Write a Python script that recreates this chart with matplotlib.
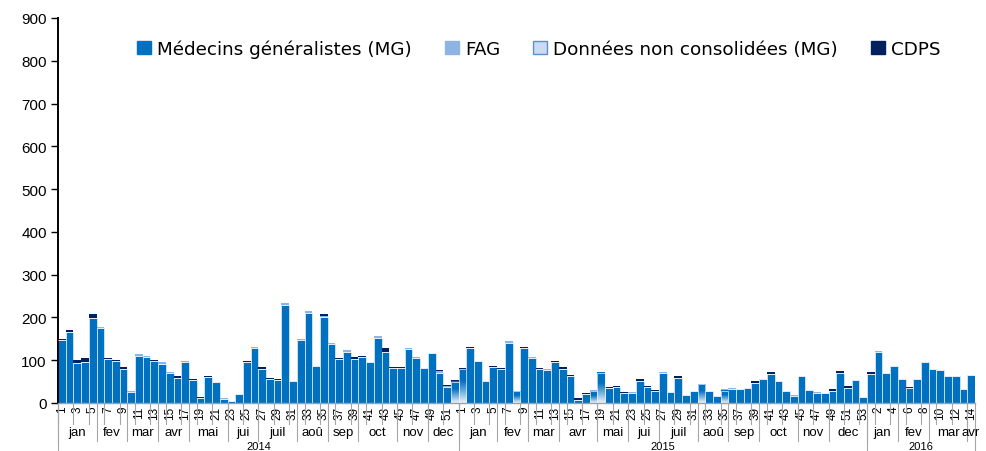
import numpy as np
import matplotlib
matplotlib.use("Agg")
import matplotlib.pyplot as plt
from matplotlib.patches import Patch
from matplotlib.colors import LinearSegmentedColormap
import matplotlib.transforms as mtransforms

plt.rcParams['font.family'] = ['Liberation Sans', 'DejaVu Sans']

# weekly counts, 2014 w1 .. 2016 w14
mg = [147, 167, 93, 97, 199, 175, 102, 98, 80, 25, 111, 107, 98, 92, 69, 59, 95, 53, 12, 60,
      48, 10, 4, 20, 95, 128, 80, 57, 53, 230, 52, 147, 211, 86, 201, 138, 102, 120, 104, 108,
      97, 153, 120, 81, 81, 127, 105, 81, 116, 71, 37, 0,
      0, 128, 98, 52, 83, 79, 141, 0, 128, 105, 79, 78, 95, 80, 62, 8, 21, 0, 0, 35,
      37, 23, 24, 52, 37, 27, 70, 26, 58, 19, 28, 0, 29, 16, 0, 33, 33, 35, 47, 57,
      68, 52, 28, 16, 62, 31, 23, 23, 27, 71, 35, 53, 14,
      67, 119, 71, 87, 55, 35, 55, 97, 79, 76, 62, 63, 32, 65]
fag = [0, 0, 0, 0, 0, 2, 0, 0, 0, 3, 3, 3, 0, 3, 3, 0, 3, 0, 0, 0,
       0, 2, 1, 0, 0, 2, 0, 0, 0, 3, 0, 2, 3, 0, 3, 3, 0, 3, 0, 0,
       0, 3, 0, 0, 0, 2, 2, 0, 2, 4, 2, 1,
       0, 0, 0, 0, 0, 0, 3, 2, 0, 3, 0, 1, 0, 0, 0, 0, 0, 3, 0, 0,
       0, 0, 1, 0, 0, 0, 2, 0, 0, 0, 0, 0, 0, 0, 3, 2, 0, 0, 0, 0,
       0, 0, 0, 2, 0, 0, 2, 0, 0, 0, 0, 0, 0,
       0, 3, 0, 0, 0, 0, 0, 0, 0, 0, 0, 0, 0, 0]
non_consol = [0] * 51 + [50] + \
             [79, 0, 0, 0, 0, 0, 0, 27, 0, 0, 0, 0, 0, 0, 0, 0, 0, 28, 71, 0,
              0, 0, 0, 0, 0, 0, 0, 0, 0, 0, 0, 44, 0, 0, 29, 0, 0, 0, 0, 0,
              0, 0, 0, 0, 0, 0, 0, 0, 0, 0, 0, 0, 0] + [0] * 14
cdps = [3, 3, 8, 8, 10, 0, 3, 3, 3, 0, 0, 0, 3, 0, 0, 3, 0, 2, 3, 2,
        0, 0, 0, 0, 4, 0, 4, 2, 2, 0, 0, 0, 0, 0, 5, 0, 3, 0, 3, 3,
        0, 0, 8, 3, 3, 0, 0, 0, 0, 3, 3, 2,
        3, 3, 0, 0, 3, 3, 0, 0, 3, 0, 3, 0, 3, 3, 3, 4, 3, 0, 0, 3,
        3, 3, 0, 3, 3, 3, 0, 0, 4, 0, 0, 0, 0, 0, 0, 0, 0, 0, 4, 0,
        4, 0, 0, 0, 0, 0, 0, 0, 5, 3, 5, 0, 0,
        5, 0, 0, 0, 0, 3, 0, 0, 0, 0, 0, 0, 0, 0]

weeks = list(range(1, 53)) + list(range(1, 54)) + list(range(1, 15))
years = ['2014', '2015', '2016']
year_len = [52, 53, 14]
months = ['jan', 'fev', 'mar', 'avr', 'mai', 'jui', 'juil', 'aoû', 'sep', 'oct', 'nov', 'dec',
          'jan', 'fev', 'mar', 'avr', 'mai', 'jui', 'juil', 'aoû', 'sep', 'oct', 'nov', 'dec',
          'jan', 'fev', 'mar', 'avr']
month_len = [5, 4, 4, 4, 5, 4, 5, 4, 4, 5, 4, 4,
             5, 4, 4, 5, 4, 4, 5, 4, 4, 5, 4, 5,
             4, 4, 5, 1]

c_mg = '#0070C0'
c_fag = '#8DB4E2'
c_cdps = '#002060'

mg = np.array(mg)
fag = np.array(fag)
non_consol = np.array(non_consol)
cdps = np.array(cdps)
x = np.arange(len(weeks))

fig = plt.figure(figsize=(9.86, 4.52), dpi=100)
ax = fig.add_axes([0.0588, 0.1062, 0.9300, 0.8518])

w = 1.0
ax.bar(x, mg, w, color=c_mg, edgecolor='#e8f0fa', linewidth=0.5, zorder=2)
nc_bars = ax.bar(x, non_consol, w, bottom=mg, color='none', edgecolor='#e8f0fa', linewidth=0.5, zorder=3)
ax.bar(x, fag, w, bottom=mg + non_consol, color=c_fag, linewidth=0, zorder=2)
ax.bar(x, cdps, w, bottom=mg + non_consol + fag, color=c_cdps, linewidth=0, zorder=2)

# gradient fill for the non consolidated part
grad_cmap = LinearSegmentedColormap.from_list('nc', [(0, '#eef3fb'), (0.65, c_mg), (1, c_mg)])
grad = np.linspace(0, 1, 100).reshape(-1, 1)
for b in nc_bars:
    if b.get_height() <= 0:
        continue
    x0, y0 = b.get_x(), b.get_y()
    ax.imshow(grad, cmap=grad_cmap, origin='lower', aspect='auto', zorder=2.5,
              extent=[x0, x0 + b.get_width(), y0, y0 + b.get_height()])

ax.set_xlim(-0.5, len(weeks) - 0.5)
ax.set_ylim(0, 900)
ax.set_yticks(range(0, 901, 100))
ax.tick_params(axis='y', labelsize=11, length=5, width=1, direction='out', pad=3)
ax.spines['top'].set_visible(False)
ax.spines['right'].set_visible(False)
ax.spines['left'].set_linewidth(1.4)
ax.spines['bottom'].set_color('#a0a0a0')
ax.spines['bottom'].set_linewidth(1)

ax.set_xticks(x[::2])
ax.set_xticklabels([str(k) for k in weeks[::2]], rotation=90, fontsize=8.5)
ax.tick_params(axis='x', length=0, pad=2)

trans = mtransforms.blended_transform_factory(ax.transData, ax.transAxes)
lc = '#a6a6a6'
for k in range(0, len(weeks), 2):
    ax.plot([k - 0.5, k - 0.5], [0, -0.055], transform=trans, color=lc, lw=0.8, clip_on=False)

pos = 0
for m, n in zip(months, month_len):
    ax.plot([pos - 0.5, pos - 0.5], [0, -0.10], transform=trans, color=lc, lw=0.8, clip_on=False)
    ax.text(pos - 0.5 + n / 2, -0.076, m, transform=trans, ha='center', va='center', fontsize=9.5)
    pos += n

pos = 0
for yr, n in zip(years, year_len):
    ax.plot([pos - 0.5, pos - 0.5], [0, -0.13], transform=trans, color=lc, lw=0.8, clip_on=False)
    ax.text(pos - 0.5 + n / 2, -0.111, yr, transform=trans, ha='center', va='center', fontsize=8)
    pos += n
ax.plot([pos - 0.5, pos - 0.5], [0, -0.13], transform=trans, color=lc, lw=0.8, clip_on=False)

handles = [Patch(facecolor=c_mg, edgecolor=c_mg),
           Patch(facecolor=c_fag, edgecolor=c_fag),
           Patch(facecolor='#c9daf1', edgecolor='#5b8fd0'),
           Patch(facecolor=c_cdps, edgecolor=c_cdps)]
labels = ['Médecins généralistes (MG)', 'FAG', 'Données non consolidées (MG)', 'CDPS']
ax.legend(handles, labels, loc='center', bbox_to_anchor=(0.5245, 0.92), ncol=4, frameon=False,
          prop={'family': 'DejaVu Sans', 'size': 13.2},
          handlelength=0.75, handleheight=0.7, handletextpad=0.35, columnspacing=1.8)

fig.savefig('out.png', dpi=100)
